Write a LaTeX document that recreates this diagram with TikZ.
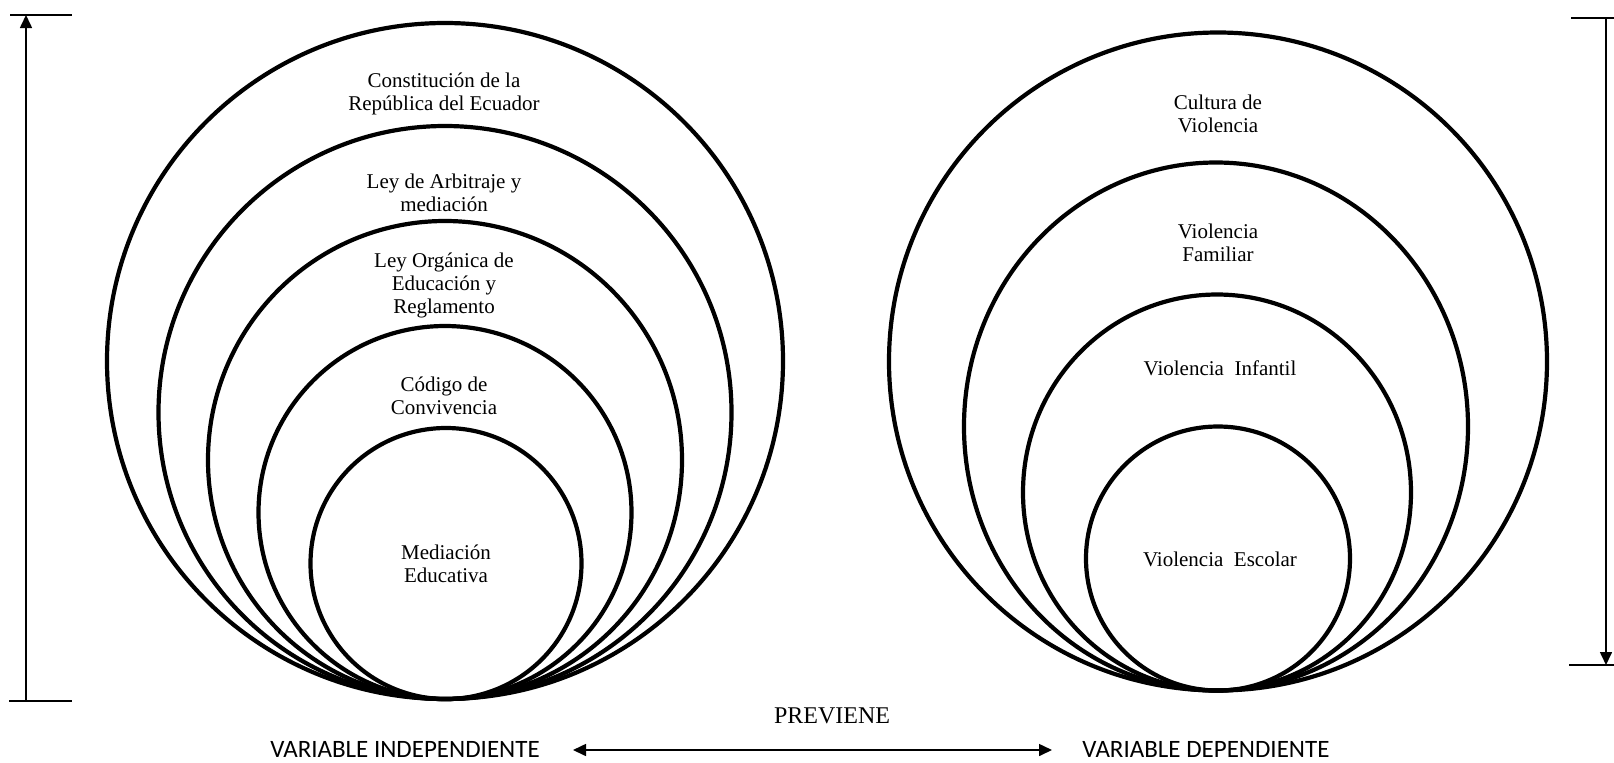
\documentclass[tikz,border=0pt]{standalone}
\usepackage{fontspec}
\setmainfont{Liberation Serif}
\newfontfamily\calib{Carlito}
\usetikzlibrary{arrows.meta}
\begin{document}
\begin{tikzpicture}[x=0.5pt,y=-0.5pt,
  ring/.style={line width=2.1pt},
  lbl/.style={font=\fontsize{10.5}{11.5}\selectfont, align=center, inner sep=0pt},
  bar/.style={line width=0.8pt},
  tickline/.style={line width=1.1pt},
  tipend/.style={-{Triangle[width=6pt,length=6.5pt]}},
  tipboth/.style={{Triangle[width=6pt,length=6.5pt]}-{Triangle[width=6pt,length=6.5pt]}},
  bottomlbl/.style={font=\calib\fontsize{12.5}{15}\selectfont, inner sep=0pt},
]
\useasboundingbox (0,0) rectangle (1614,762);

% left nested circles (tangent at bottom)
\draw[ring] (445,361) ellipse [x radius=338, y radius=338];
\draw[ring] (445,412.5) ellipse [x radius=286.5, y radius=286.5];
\draw[ring] (445,460) ellipse [x radius=237, y radius=239];
\draw[ring] (445,512.5) ellipse [x radius=186.5, y radius=186.5];
\draw[ring] (446,563.5) ellipse [x radius=135.5, y radius=135.5];

% right nested circles
\draw[ring] (1218,361.5) ellipse [x radius=329, y radius=329];
\draw[ring] (1216,426.5) ellipse [x radius=252, y radius=264];
\draw[ring] (1217,492.5) ellipse [x radius=194, y radius=198];
\draw[ring] (1218,558.5) ellipse [x radius=132, y radius=132];

% left labels
\node[lbl] (c1) at (444,94) {Constitución de la\\República del Ecuador};
\node[lbl] (c2) at (444,193) {Ley de Arbitraje y\\mediación};
\node[lbl] (c3) at (444,285) {Ley Orgánica de\\Educación y\\Reglamento};
\node[lbl] (c4) at (444,396) {Código de\\Convivencia};
\node[lbl] (c5) at (446,564) {Mediación\\Educativa};

% right labels
\node[lbl] (d1) at (1218,114) {Cultura de\\Violencia};
\node[lbl] (d2) at (1218,243) {Violencia\\Familiar};
\node[lbl] (d3) at (1220,368) {Violencia\ \ Infantil};
\node[lbl] (d4) at (1220,559) {Violencia\ \ Escolar};

% left bracket
\coordinate (lt) at (26,15);
\coordinate (lb) at (26,701);
\coordinate (lt1) at (10,15);
\coordinate (lt2) at (72,15);
\coordinate (lb1) at (9,701);
\coordinate (lb2) at (72,701);
\draw[bar,tipend] (lb) -- (lt);
\draw[tickline] (lt1) -- (lt2);
\draw[tickline] (lb1) -- (lb2);

% right bracket
\coordinate (rt) at (1606,18);
\coordinate (rb) at (1606,665);
\coordinate (rt1) at (1571,18);
\coordinate (rt2) at (1614,18);
\coordinate (rb1) at (1569,665);
\coordinate (rb2) at (1614,665);
\draw[bar,tipend] (rt) -- (rb);
\draw[tickline] (rt1) -- (rt2);
\draw[tickline] (rb1) -- (rb2);

% bottom
\node[font=\fontsize{12}{14}\selectfont, inner sep=0pt] (prev) at (832,716) {PREVIENE};
\node[bottomlbl] (vi) at (405,749) {VARIABLE INDEPENDIENTE};
\node[bottomlbl] (vd) at (1206,749) {VARIABLE DEPENDIENTE};
\coordinate (a1) at (573,750);
\coordinate (a2) at (1052,750);
\draw[bar,tipboth] (a1) -- (a2);
\end{tikzpicture}
\end{document}
